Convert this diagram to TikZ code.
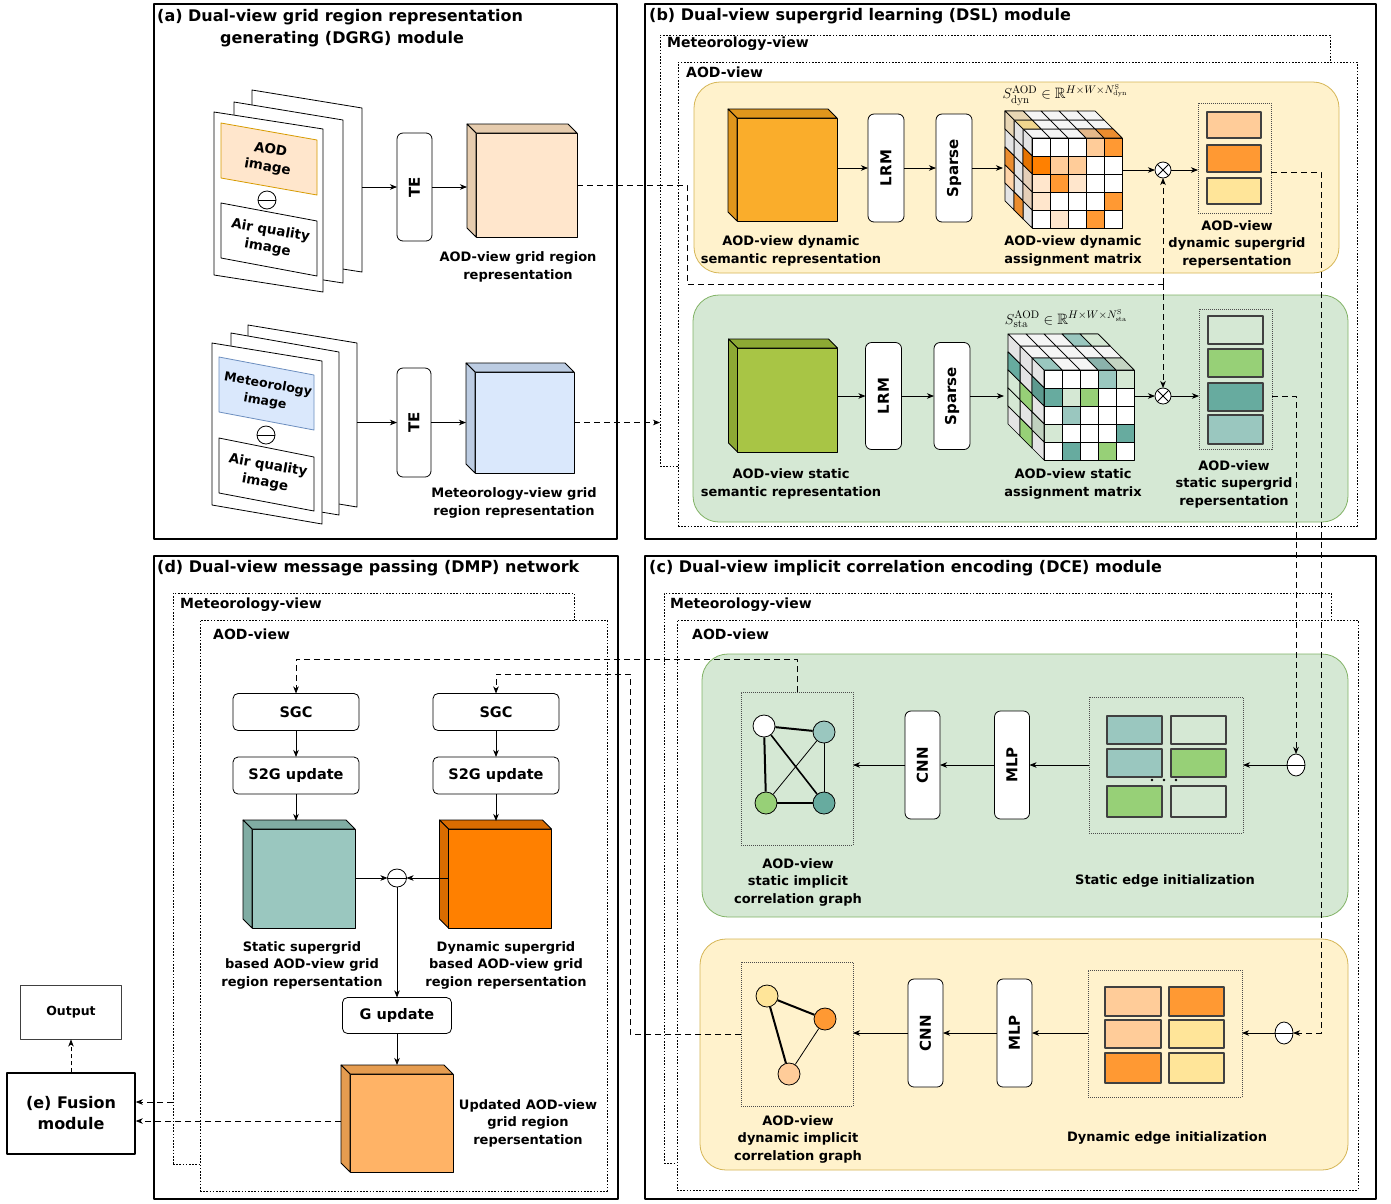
\documentclass[tikz,border=0pt]{standalone}
\usepackage[no-math]{fontspec}
\setmainfont{DejaVu Sans}
\usepackage{amssymb}
\usepackage{graphicx}
\usetikzlibrary{arrows.meta,calc,shapes.geometric}

\definecolor{aodfill}{HTML}{FFE6CC}
\definecolor{aodside}{HTML}{E6CCAE}
\definecolor{aodline}{HTML}{D79B00}
\definecolor{metfill}{HTML}{DAE8FC}
\definecolor{metside}{HTML}{BCCCE2}
\definecolor{metline}{HTML}{6C8EBF}
\definecolor{ybg}{HTML}{FFF2CC}
\definecolor{yline}{HTML}{D6B656}
\definecolor{gbg}{HTML}{D5E8D4}
\definecolor{gline}{HTML}{82B366}
\definecolor{semor}{HTML}{FAAD2B}
\definecolor{semorside}{HTML}{E0961C}
\definecolor{semgr}{HTML}{A8C545}
\definecolor{semgrside}{HTML}{8DA934}
\definecolor{corange}{HTML}{FF9933}
\definecolor{clorange}{HTML}{FFCC99}
\definecolor{cdorange}{HTML}{FF8000}
\definecolor{cvlorange}{HTML}{FFE6CC}
\definecolor{cyellow}{HTML}{FFE599}
\definecolor{cteal}{HTML}{67AB9F}
\definecolor{clteal}{HTML}{9AC7BF}
\definecolor{cgreen}{HTML}{97D077}
\definecolor{clgreen}{HTML}{D5E8D4}
\definecolor{ctan}{HTML}{E8D6B4}
\definecolor{ctanY}{HTML}{F0D68E}
\definecolor{vtop}{HTML}{F5F5F5}
\definecolor{vside}{HTML}{E4E4E4}
\definecolor{stcside}{HTML}{80ACA3}
\definecolor{dycside}{HTML}{D96C00}
\definecolor{cupd}{HTML}{FFB366}
\definecolor{upcside}{HTML}{E59C50}

\tikzset{
  panel/.style={draw, line width=1.6pt, inner sep=0pt, outer sep=0pt},
  viewbox/.style={draw, fill=white, dash pattern=on 1.6pt off 1.6pt, line width=0.7pt, inner sep=0pt, outer sep=0pt},
  dotbox/.style={draw=black!70, dash pattern=on 1pt off 1pt, line width=0.6pt, inner sep=0pt, outer sep=0pt},
  bgY/.style={draw=yline, fill=ybg, rounded corners=26pt, line width=0.8pt, inner sep=0pt, outer sep=0pt},
  bgG/.style={draw=gline, fill=gbg, rounded corners=26pt, line width=0.8pt, inner sep=0pt, outer sep=0pt},
  vbox/.style={draw, fill=white, rounded corners=6pt, line width=0.8pt, inner sep=0pt, outer sep=0pt, font=\fontsize{15}{18}\selectfont\bfseries},
  tbox/.style={draw, fill=white, rounded corners=5pt, line width=0.8pt, inner sep=0pt, outer sep=0pt, font=\fontsize{14.5}{18}\selectfont\bfseries},
  lab/.style={font=\fontsize{13}{17.5}\selectfont\bfseries, align=center, inner sep=0pt},
  ttl/.style={font=\fontsize{16}{22}\selectfont\bfseries, inner sep=0pt, anchor=west},
  vw/.style={font=\fontsize{14}{17}\selectfont\bfseries, inner sep=0pt, anchor=west},
  mathlab/.style={font=\fontsize{15}{17}\selectfont, inner sep=0pt},
  page/.style={draw, fill=white, line width=0.8pt},
  cell/.style={draw=black!75, line width=1.1pt},
  vox/.style={draw=black, line width=0.7pt},
  minus/.style={ellipse, draw, fill=white, line width=0.8pt, inner sep=0pt, outer sep=0pt,
    path picture={\draw[line width=0.8pt] (path picture bounding box.west) -- (path picture bounding box.east);}},
  otimes/.style={circle, draw, fill=white, line width=0.8pt, inner sep=0pt, outer sep=0pt, minimum size=16pt},
  gnode/.style={ellipse, draw, line width=0.8pt, minimum width=22pt, minimum height=22pt, inner sep=0pt},
  arr/.style={-{Stealth[length=7pt,width=5.5pt,inset=2pt]}, line width=0.8pt},
  dsh/.style={dash pattern=on 6pt off 4pt, line width=0.8pt},
}

% cube: name, centre x, centre y, width, height, depth, front colour, side colour
\newcommand{\cubebox}[8]{%
  \node[draw, line width=0.8pt, fill=#7, minimum width=#4pt, minimum height=#5pt, inner sep=0pt, outer sep=0pt] (#1) at (#2,#3) {};
  \filldraw[fill=#8, line width=0.8pt] (#1.north west) -- ++(-#6,-#6) -- ++(#4,0) -- (#1.north east) -- cycle;
  \filldraw[fill=#8, line width=0.8pt] (#1.north west) -- ++(-#6,-#6) -- ++(0,#5) -- (#1.south west) -- cycle;
}
% voxel faces of an assignment tensor (origin \mxx,\myy, cell \mss, depth step \moo)
\newcommand{\vf}[3]{\filldraw[vox, fill=#3] ({\mxx+#1*\mss},{\myy+#2*\mss}) rectangle ++(\mss,\mss);}
\newcommand{\vt}[3]{\filldraw[vox, fill=#3] ({\mxx+#1*\mss-#2*\moo},{\myy-#2*\moo}) -- ++(\mss,0) -- ++(-\moo,-\moo) -- ++(-\mss,0) -- cycle;}
\newcommand{\vl}[3]{\filldraw[vox, fill=#3] ({\mxx-#1*\moo},{\myy+#2*\mss-#1*\moo}) -- ++(-\moo,-\moo) -- ++(0,\mss) -- ++(\moo,\moo) -- cycle;}
\newcommand{\voxgrid}{%
  \foreach \ci in {0,...,4}{\foreach \di in {0,1,2}{\vt{\ci}{\di}{vtop}}}%
  \foreach \di in {0,1,2}{\foreach \ri in {0,...,4}{\vl{\di}{\ri}{vside}}}%
  \foreach \ci in {0,...,4}{\foreach \ri in {0,...,4}{\vf{\ci}{\ri}{white}}}%
}

\begin{document}
\begin{tikzpicture}[x=1pt, y=-1pt, line join=round]
\useasboundingbox (0,0) rectangle (1391,1203);
\fill[white] (0,0) rectangle (1391,1203);

% ---------------- panel frames and titles
\node[panel, minimum width=463pt, minimum height=535pt] (pa) at (385.5,271.5) {};
\node[panel, minimum width=731pt, minimum height=535pt] (pb) at (1010.5,271.5) {};
\node[panel, minimum width=464pt, minimum height=643pt] (pd) at (386,877.5) {};
\node[panel, minimum width=731pt, minimum height=643pt] (pc) at (1010.5,877.5) {};
\node[ttl] (ta1) at (157,17) {(a) Dual-view grid region representation};
\node[ttl, anchor=center] (ta2) at (342,39) {generating (DGRG) module};
\node[ttl] (tb) at (649,16) {(b) Dual-view supergrid learning (DSL) module};
\node[ttl] (tc) at (649,568) {(c) Dual-view implicit correlation encoding (DCE) module};
\node[ttl] (td) at (157,568) {(d) Dual-view message passing (DMP) network};

% ---------------- (a) AOD stack
\filldraw[page] (252,90) -- (362,108) -- (362,272) -- (252,255) -- cycle;
\filldraw[page] (234,102) -- (343,120) -- (343,283) -- (234,266) -- cycle;
\filldraw[page] (214,112) -- (323,129) -- (323,292) -- (214,275) -- cycle;
\filldraw[fill=aodfill, draw=aodline, line width=0.8pt] (221,123) -- (317,140) -- (317,195) -- (221,178) -- cycle;
\node[lab, font=\fontsize{13.5}{17.5}\selectfont\bfseries, rotate=-10] (aodimg) at (269,159) {AOD\\image};
\node[minus, minimum width=18pt, minimum height=18pt] (am) at (267,200) {};
\filldraw[page] (221,203) -- (317,221) -- (317,276) -- (221,258) -- cycle;
\node[lab, font=\fontsize{13.5}{17.5}\selectfont\bfseries, rotate=-10] (aq1) at (269,239.5) {Air quality\\image};
\coordinate (st1) at (362,187);
\node[vbox, minimum width=35pt, minimum height=108pt] (te1) at (414.5,187) {\rotatebox{90}{TE}};
\cubebox{aodcube}{526.5}{185}{101}{104}{9}{aodfill}{aodside}
\node[lab] (aodlab) at (518,267) {AOD-view grid region\\representation};

% ---------------- (a) meteorology stack
\filldraw[page] (248,325) -- (357,343) -- (357,507) -- (248,489) -- cycle;
\filldraw[page] (231,333) -- (339,352) -- (339,515) -- (231,497) -- cycle;
\filldraw[page] (212,343) -- (322,361) -- (322,524) -- (212,505) -- cycle;
\filldraw[fill=metfill, draw=metline, line width=0.8pt] (219,357) -- (314,375) -- (314,430) -- (219,412) -- cycle;
\node[lab, font=\fontsize{12.5}{17}\selectfont\bfseries, rotate=-10] (metimg) at (266.5,393.5) {Meteorology\\image};
\node[minus, minimum width=18pt, minimum height=18pt] (mm) at (266,435) {};
\filldraw[page] (219,438) -- (314,457) -- (314,511) -- (219,493) -- cycle;
\node[lab, font=\fontsize{13.5}{17.5}\selectfont\bfseries, rotate=-10] (aq2) at (266.5,474.5) {Air quality\\image};
\coordinate (st2) at (357,422.5);
\node[vbox, minimum width=34pt, minimum height=109pt] (te2) at (414,422.5) {\rotatebox{90}{TE}};
\cubebox{metcube}{524.5}{422.5}{99}{101}{9}{metfill}{metside}
\node[lab] (metlab) at (514,503) {Meteorology-view grid\\region representation};

% ---------------- (b) view boxes
\node[viewbox, minimum width=670pt, minimum height=431pt] (bmet) at (995,250.5) {};
\node[viewbox, minimum width=679pt, minimum height=464pt] (baod) at (1017.5,294) {};
\node[vw] (bmetl) at (667,44) {Meteorology-view};
\node[vw] (baodl) at (686,72) {AOD-view};
\node[bgY, minimum width=645pt, minimum height=191pt] (bdyn) at (1016.5,177.5) {};
\node[bgG, minimum width=655pt, minimum height=227pt] (bsta) at (1020.5,408.5) {};

% dynamic branch
\cubebox{semo}{787}{169.5}{100}{103}{9}{semor}{semorside}
\node[vbox, minimum width=36pt, minimum height=108pt] (lrm1) at (886,168) {\rotatebox{90}{LRM}};
\node[vbox, minimum width=36pt, minimum height=108pt] (sp1) at (954,168) {\rotatebox{90}{Sparse}};
\begin{scope}
\def\mxx{1032}\def\myy{138}\def\mss{18}\def\moo{9}
\voxgrid
\vf{3}{0}{clorange}\vf{4}{0}{corange}
\vf{0}{1}{cdorange}\vf{1}{1}{clorange}\vf{2}{1}{clorange}
\vf{0}{2}{cvlorange}\vf{1}{2}{corange}\vf{2}{2}{cvlorange}
\vf{0}{3}{cvlorange}\vf{4}{3}{corange}
\vf{1}{4}{cvlorange}\vf{3}{4}{corange}
\vt{3}{0}{clorange!90!black}\vt{4}{0}{corange!92!black}\vt{0}{1}{ctanY}\vt{0}{2}{ctan}
\vl{2}{0}{ctan}\vl{2}{2}{corange!92!black}\vl{2}{3}{clorange!85!white}\vl{1}{4}{corange!92!black}
\vl{0}{1}{cdorange!90!black}\vl{0}{2}{cvlorange!90!black}\vl{0}{3}{cvlorange!90!black}
\end{scope}
\node[inner sep=0pt, outer sep=0pt, minimum size=90pt] (dynmat) at (1077,183) {};
\coordinate (dmin) at (1003,168);
\node[mathlab] (sdyn) at (1065,95) {$S^{\mathrm{AOD}}_{\mathrm{dyn}}\in\mathbb{R}^{H\times W\times N^{\mathrm{S}}_{\mathrm{dyn}}}$};
\node[otimes] (ox1) at (1163,170) {};
\draw[line width=0.8pt] (ox1.north west) -- (ox1.south east) (ox1.north east) -- (ox1.south west);
\node[dotbox, minimum width=73pt, minimum height=110pt] (sg1) at (1234.5,158) {};
\filldraw[cell, fill=clorange] (1207,112) rectangle (1261,138);
\filldraw[cell, fill=corange] (1207,145) rectangle (1261,172);
\filldraw[cell, fill=cyellow] (1207,178) rectangle (1261,204);
\node[lab] (l1) at (791,251) {AOD-view dynamic\\semantic representation};
\node[lab] (l2) at (1073,251) {AOD-view dynamic\\assignment matrix};
\node[lab] (l3) at (1237,244) {AOD-view\\dynamic supergrid\\repersentation};

% static branch
\cubebox{semg}{787.5}{400}{100}{104}{9}{semgr}{semgrside}
\node[vbox, minimum width=36pt, minimum height=107pt] (lrm2) at (883.5,396) {\rotatebox{90}{LRM}};
\node[vbox, minimum width=36pt, minimum height=107pt] (sp2) at (952,396) {\rotatebox{90}{Sparse}};
\begin{scope}
\def\mxx{1044}\def\myy{370}\def\mss{18}\def\moo{12}
\voxgrid
\vf{3}{0}{clteal}\vf{4}{0}{clgreen}
\vf{0}{1}{cteal}\vf{1}{1}{clgreen}\vf{2}{1}{cgreen}
\vf{1}{2}{clteal}
\vf{0}{3}{clgreen}\vf{4}{3}{cteal}
\vf{1}{4}{cteal}\vf{3}{4}{cgreen}
\vt{3}{0}{clteal!90!black}\vt{4}{0}{clgreen!92!black}\vt{3}{2}{clteal}\vt{4}{2}{clgreen}\vt{0}{0}{clteal}
\vl{2}{1}{cteal}\vl{2}{2}{clgreen}\vl{2}{3}{clgreen}\vl{1}{2}{cgreen}\vl{1}{4}{cgreen}
\vl{0}{1}{cteal!90!black}\vl{0}{3}{clgreen!90!black}
\end{scope}
\node[inner sep=0pt, outer sep=0pt, minimum size=90pt] (stamat) at (1089,415) {};
\coordinate (smin) at (1004,396);
\node[mathlab] (ssta) at (1066,319) {$S^{\mathrm{AOD}}_{\mathrm{sta}}\in\mathbb{R}^{H\times W\times N^{\mathrm{S}}_{\mathrm{sta}}}$};
\node[otimes] (ox2) at (1163,396) {};
\draw[line width=0.8pt] (ox2.north west) -- (ox2.south east) (ox2.north east) -- (ox2.south west);
\node[dotbox, minimum width=73pt, minimum height=140pt] (sg2) at (1235.5,379) {};
\filldraw[cell, fill=clgreen] (1208,316) rectangle (1263,344);
\filldraw[cell, fill=cgreen] (1208,349) rectangle (1263,377);
\filldraw[cell, fill=cteal] (1208,383) rectangle (1263,411);
\filldraw[cell, fill=clteal] (1208,415) rectangle (1263,444);
\node[lab] (l4) at (791,484) {AOD-view static\\semantic representation};
\node[lab] (l5) at (1073,484) {AOD-view static\\assignment matrix};
\node[lab] (l6) at (1234,484) {AOD-view\\static supergrid\\repersentation};

% ---------------- (c) view boxes
\node[viewbox, minimum width=667pt, minimum height=570pt] (cmet) at (997.5,878) {};
\node[viewbox, minimum width=681pt, minimum height=570pt] (caod) at (1017.5,905) {};
\node[vw] (cmetl) at (670,605) {Meteorology-view};
\node[vw] (caodl) at (692,634) {AOD-view};
\node[bgG, minimum width=646pt, minimum height=263pt] (csta) at (1025,785.5) {};
\node[bgY, minimum width=648pt, minimum height=231pt] (cdyn) at (1024,1054.5) {};

% static graph
\node[dotbox, minimum width=112pt, minimum height=153pt] (gb1) at (797,768.5) {};
\node[gnode, fill=white] (n1) at (764,726) {};
\node[gnode, fill=clteal] (n2) at (824,732) {};
\node[gnode, fill=cgreen] (n3) at (766,803) {};
\node[gnode, fill=cteal] (n4) at (824,803) {};
\draw[line width=2pt] (n1) -- (n2);
\draw[line width=2pt] (n1) -- (n3);
\draw[line width=1.6pt] (n1) -- (n4);
\draw[line width=0.8pt] (n2) -- (n3);
\draw[line width=0.8pt] (n2) -- (n4);
\draw[line width=2pt] (n3) -- (n4);
\node[vbox, minimum width=35pt, minimum height=108pt] (cnn1) at (922.5,765) {\rotatebox{90}{CNN}};
\node[vbox, minimum width=35pt, minimum height=108pt] (mlp1) at (1012,765) {\rotatebox{90}{MLP}};
\node[dotbox, minimum width=154pt, minimum height=136pt] (eb1) at (1166,765) {};
\filldraw[cell, fill=clteal] (1107,716) rectangle (1162,744);
\filldraw[cell, fill=clgreen] (1171,716) rectangle (1226,744);
\filldraw[cell, fill=clteal] (1107,749) rectangle (1162,777);
\filldraw[cell, fill=cgreen] (1171,749) rectangle (1226,777);
\filldraw[cell, fill=cgreen] (1107,786) rectangle (1162,817);
\filldraw[cell, fill=clgreen] (1171,786) rectangle (1226,817);
\fill (1152,780) circle (1.4) (1164,780) circle (1.4) (1176,780) circle (1.4);
\node[minus, minimum width=18pt, minimum height=22pt] (cm1) at (1296,765) {};
\node[lab] (l7) at (798,882) {AOD-view\\static implicit\\correlation graph};
\node[lab] (l8) at (1165,881) {Static edge initialization};

% dynamic graph
\node[dotbox, minimum width=112pt, minimum height=144pt] (gb2) at (797,1034) {};
\node[gnode, fill=cyellow] (m1) at (767,996) {};
\node[gnode, fill=corange] (m2) at (825,1019) {};
\node[gnode, fill=clorange] (m3) at (789,1074) {};
\draw[line width=2pt] (m1) -- (m2);
\draw[line width=2pt] (m1) -- (m3);
\draw[line width=0.8pt] (m2) -- (m3);
\node[vbox, minimum width=35pt, minimum height=108pt] (cnn2) at (925.5,1033) {\rotatebox{90}{CNN}};
\node[vbox, minimum width=35pt, minimum height=108pt] (mlp2) at (1014.5,1033) {\rotatebox{90}{MLP}};
\node[dotbox, minimum width=154pt, minimum height=127pt] (eb2) at (1165,1033.5) {};
\filldraw[cell, fill=clorange] (1105,987) rectangle (1161,1016);
\filldraw[cell, fill=corange] (1169,987) rectangle (1224,1016);
\filldraw[cell, fill=clorange] (1105,1020) rectangle (1161,1048);
\filldraw[cell, fill=cyellow] (1169,1020) rectangle (1224,1048);
\filldraw[cell, fill=corange] (1105,1053) rectangle (1161,1083);
\filldraw[cell, fill=cyellow] (1169,1053) rectangle (1224,1083);
\node[minus, minimum width=18pt, minimum height=22pt] (cm2) at (1284,1033) {};
\node[lab] (l9) at (798,1139) {AOD-view\\dynamic implicit\\correlation graph};
\node[lab] (l10) at (1167,1138) {Dynamic edge initialization};

% ---------------- (d) message passing
\node[viewbox, minimum width=401pt, minimum height=571pt] (dmet) at (373.5,878.5) {};
\node[viewbox, minimum width=407pt, minimum height=571pt] (daod) at (403.5,905.5) {};
\node[vw] (dmetl) at (180,605) {Meteorology-view};
\node[vw] (daodl) at (213,634) {AOD-view};
\node[tbox, minimum width=126pt, minimum height=37pt] (sgc1) at (296,712) {SGC};
\node[tbox, minimum width=126pt, minimum height=37pt] (sgc2) at (496,712) {SGC};
\node[tbox, minimum width=126pt, minimum height=37pt] (s2g1) at (296,775.5) {S2G update};
\node[tbox, minimum width=126pt, minimum height=37pt] (s2g2) at (496,775.5) {S2G update};
\cubebox{stc}{303.5}{878.5}{103}{99}{9}{clteal}{stcside}
\cubebox{dyc}{500}{878.5}{103}{99}{9}{cdorange}{dycside}
\node[minus, minimum width=19pt, minimum height=18pt] (dm) at (397,878) {};
\node[tbox, minimum width=109pt, minimum height=36pt] (gup) at (397,1015.5) {G update};
\cubebox{upc}{401.5}{1123}{103}{98}{9}{cupd}{upcside}
\node[lab] (l11) at (302,965) {Static supergrid\\based AOD-view grid\\region repersentation};
\node[lab] (l12) at (506,965) {Dynamic supergrid\\based AOD-view grid\\region repersentation};
\node[lab] (l13) at (528,1123) {Updated AOD-view\\grid region\\repersentation};

% ---------------- (e) fusion and output
\node[draw, line width=1.4pt, minimum width=128pt, minimum height=81pt, inner sep=0pt, align=center,
  font=\fontsize{16}{21}\selectfont\bfseries] (fus) at (71,1113.5) {(e) Fusion\\module};
\node[draw=black!75, line width=0.9pt, minimum width=101pt, minimum height=54pt, inner sep=0pt,
  font=\fontsize{12.5}{15}\selectfont\bfseries] (out) at (71,1012) {Output};

% ---------------- solid connectors
\draw[arr] (st1) -- (te1);
\draw[arr] (te1.east) -- ($(aodcube.west |- te1.east)+(-9,0)$);
\draw[arr] (st2) -- (te2);
\draw[arr] (te2.east) -- ($(metcube.west |- te2.east)+(-9,0)$);
\draw[arr] (semo.east |- lrm1) -- (lrm1);
\draw[arr] (lrm1) -- (sp1);
\draw[arr] (sp1) -- (dmin);
\draw[arr] (dynmat.east |- ox1) -- (ox1);
\draw[arr] (ox1) -- (ox1 -| sg1.west);
\draw[arr] (semg.east |- lrm2) -- (lrm2);
\draw[arr] (lrm2) -- (sp2);
\draw[arr] (sp2) -- (smin);
\draw[arr] (stamat.east |- ox2) -- (ox2);
\draw[arr] (ox2) -- (ox2 -| sg2.west);
\draw[arr] (cm1) -- (cm1 -| eb1.east);
\draw[arr] (eb1.west |- mlp1) -- (mlp1);
\draw[arr] (mlp1) -- (cnn1);
\draw[arr] (cnn1) -- (cnn1 -| gb1.east);
\draw[arr] (cm2) -- (cm2 -| eb2.east);
\draw[arr] (eb2.west |- mlp2) -- (mlp2);
\draw[arr] (mlp2) -- (cnn2);
\draw[arr] (cnn2) -- (cnn2 -| gb2.east);
\draw[arr] (sgc1) -- (s2g1);
\draw[arr] (sgc2) -- (s2g2);
\draw[arr] (s2g1.south) -- ($(s2g1.south |- stc.north)+(0,-8)$);
\draw[arr] (s2g2.south) -- ($(s2g2.south |- dyc.north)+(0,-8)$);
\draw[arr] (stc.east |- dm) -- (dm);
\draw[arr] (dyc.west |- dm) -- (dm);
\draw[arr] (dm) -- (gup);
\draw[arr] (gup.south) -- ($(gup.south |- upc.north)+(0,-9)$);

% ---------------- dashed connectors
\coordinate (jl) at (687,284);
\coordinate (jn) at (1163,284);
\draw[dsh] (aodcube.east) -- (aodcube.east -| jl) -- (jl) -- (jn);
\draw[dsh, arr] (jn) -- (ox1);
\draw[dsh, arr] (jn) -- (ox2);
\draw[dsh, arr] (metcube.east) -- (metcube.east -| bmet.west);
\coordinate (r1) at (1321,172);
\draw[dsh, arr] (sg1.east |- r1) -- (r1) -- (r1 |- cm2) -- (cm2);
\coordinate (r2) at (1296,396);
\draw[dsh, arr] (sg2.east |- r2) -- (r2) -- (cm1);
\coordinate (u1) at (797,659);
\draw[dsh, arr] (gb1.north) -- (u1) -- (u1 -| sgc1) -- (sgc1);
\coordinate (u2) at (630,674);
\draw[dsh, arr] (gb2.west) -- (gb2.west -| u2) -- (u2) -- (u2 -| sgc2) -- (sgc2);
\coordinate (fa) at (173,1102);
\draw[dsh, arr] (fa) -- (fa -| fus.east);
\path ($(upc.west)+(-9,-2)$) coordinate (upl);
\draw[dsh, arr] (upl) -- (upl -| fus.east);
\draw[dash pattern=on 4pt off 3pt, line width=0.8pt, arr] (fus) -- (out);
\end{tikzpicture}
\end{document}
